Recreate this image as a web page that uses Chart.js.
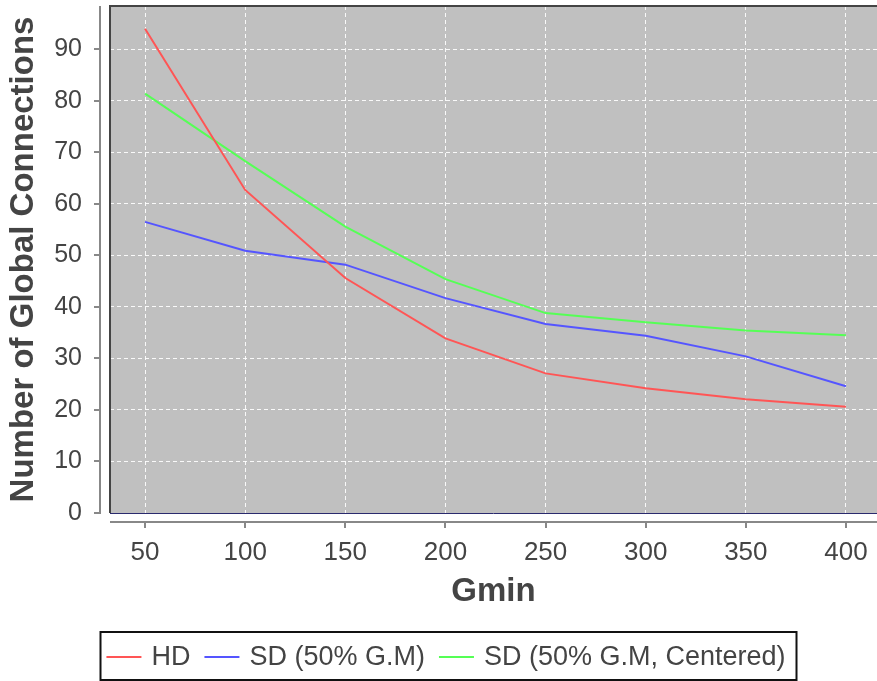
<!DOCTYPE html>
<html>
<head>
<meta charset="utf-8">
<title>Global connections vs Gmin</title>
<script src="https://cdn.jsdelivr.net/npm/chart.js@4.4.0/dist/chart.umd.min.js"></script>
<style>
  html, body { margin: 0; padding: 0; background: #fff; overflow: hidden; }
  canvas { display: block; }
</style>
</head>
<body>
<canvas id="myChart" width="877" height="681"></canvas>
<script>
// data
var gmin = [50, 100, 150, 200, 250, 300, 350, 400];
var hd = [94.0, 62.7, 45.6, 33.9, 27.1, 24.2, 22.1, 20.6];
var sdHalf = [56.5, 50.9, 48.2, 41.7, 36.7, 34.4, 30.4, 24.6];
var sdCentered = [81.4, 68.3, 55.6, 45.4, 38.8, 37.0, 35.4, 34.5];
var yTicks = [0, 10, 20, 30, 40, 50, 60, 70, 80, 90];
var seriesNames = ["HD", "SD (50% G.M)", "SD (50% G.M, Centered)"];
var seriesColors = ["#ff5555", "#5555ff", "#55ff55"];

var textColor = "#444444";
var axisColor = "#888888";
var fontFamily = "'Liberation Sans', Arial, sans-serif";

function toPoints(values) {
  return gmin.map(function (g, i) { return {x: g, y: values[i]}; });
}

var allSeries = [hd, sdHalf, sdCentered];
var datasets = allSeries.map(function (values, i) {
  return {
    label: seriesNames[i],
    data: toPoints(values),
    borderColor: seriesColors[i],
    backgroundColor: seriesColors[i],
    borderWidth: 2,
    pointRadius: 0,
    tension: 0,
    fill: false
  };
});

// fixed scale sizes, no extra label padding around the plot
function fixSize(prop, size) {
  return function (s) {
    s[prop] = size;
    s.paddingTop = 0; s.paddingBottom = 0;
    s.paddingLeft = 0; s.paddingRight = 0;
  };
}

// grey plot background, frame, offset axis lines and the boxed legend
var plotFrame = {
  id: "plotFrame",
  beforeDraw: function (chart) {
    var a = chart.chartArea, ctx = chart.ctx;
    ctx.save();
    ctx.fillStyle = "#c0c0c0";
    ctx.fillRect(a.left, a.top, a.right - a.left, a.bottom - a.top);
    ctx.restore();
  },
  afterDraw: function (chart) {
    var a = chart.chartArea, ctx = chart.ctx;
    var xs = chart.scales.x, ys = chart.scales.y;
    ctx.save();

    // frame: dark top/left, thin navy line along the zero level
    ctx.strokeStyle = "#444444";
    ctx.lineWidth = 2;
    ctx.beginPath();
    ctx.moveTo(a.left, a.bottom);
    ctx.lineTo(a.left, a.top);
    ctx.lineTo(a.right, a.top);
    ctx.stroke();
    ctx.strokeStyle = "#2a2a6e";
    ctx.lineWidth = 1;
    ctx.beginPath();
    ctx.moveTo(a.left, a.bottom + 0.5);
    ctx.lineTo(a.right, a.bottom + 0.5);
    ctx.stroke();

    // axis lines sit a few pixels away from the plot
    ctx.strokeStyle = axisColor;
    ctx.lineWidth = 2;
    var axX = a.left - 10;
    ctx.beginPath();
    ctx.moveTo(axX, a.top);
    ctx.lineTo(axX, a.bottom + 1);
    yTicks.forEach(function (v) {
      var py = Math.round(ys.getPixelForValue(v));
      ctx.moveTo(axX - 6, py);
      ctx.lineTo(axX, py);
    });
    var axY = a.bottom + 9;
    ctx.moveTo(a.left, axY);
    ctx.lineTo(a.right, axY);
    gmin.forEach(function (g) {
      var px = Math.round(xs.getPixelForValue(g));
      ctx.moveTo(px, axY);
      ctx.lineTo(px, axY + 6);
    });
    ctx.stroke();

    // legend
    ctx.font = "27px " + fontFamily;
    var lineLen = 35, gapText = 10, gapItem = 14;
    var widths = chart.data.datasets.map(function (d) { return ctx.measureText(d.label).width; });
    var total = 0;
    widths.forEach(function (w, i) {
      total += lineLen + gapText + w + (i < widths.length - 1 ? gapItem : 0);
    });
    var cx = 446, cy = 657;
    var x0 = cx - total / 2;
    ctx.strokeStyle = "#111111";
    ctx.lineWidth = 2;
    ctx.strokeRect(Math.round(x0 - 6) + 0.5, 632, Math.round(total + 17), 48);
    var x = x0;
    ctx.textBaseline = "middle";
    ctx.textAlign = "left";
    chart.data.datasets.forEach(function (d, i) {
      ctx.strokeStyle = d.borderColor;
      ctx.lineWidth = 2;
      ctx.beginPath();
      ctx.moveTo(x, cy);
      ctx.lineTo(x + lineLen, cy);
      ctx.stroke();
      x += lineLen + gapText;
      ctx.fillStyle = textColor;
      ctx.fillText(d.label, x, cy + 1);
      x += widths[i] + gapItem;
    });
    ctx.restore();
  }
};

new Chart("myChart", {
  type: "line",
  data: {datasets: datasets},
  plugins: [plotFrame],
  options: {
    responsive: false,
    animation: false,
    layout: {padding: {top: 6, right: 0, left: 0, bottom: 68}},
    plugins: {
      legend: {display: false},
      tooltip: {enabled: false}
    },
    scales: {
      x: {
        type: "linear",
        min: 32.5,
        max: 415.5,
        afterBuildTicks: function (s) { s.ticks = gmin.map(function (g) { return {value: g}; }); },
        afterFit: fixSize("height", 100),
        grid: {color: "rgba(255,255,255,0.9)", lineWidth: 1, drawTicks: false},
        border: {display: false, dash: [4, 3]},
        ticks: {color: textColor, font: {family: fontFamily, size: 26}, padding: 24, maxRotation: 0},
        title: {display: true, text: "Gmin", color: textColor,
                font: {family: fontFamily, size: 33, weight: "bold"}, padding: {top: 0, bottom: 1}}
      },
      y: {
        min: 0,
        max: 98.4,
        afterBuildTicks: function (s) { s.ticks = yTicks.map(function (v) { return {value: v}; }); },
        afterFit: fixSize("width", 110),
        grid: {color: "rgba(255,255,255,0.9)", lineWidth: 1, drawTicks: false},
        border: {display: false, dash: [4, 3]},
        ticks: {color: textColor, font: {family: fontFamily, size: 25}, padding: 28},
        title: {display: true, text: "Number of Global Connections", color: textColor,
                font: {family: fontFamily, size: 33, weight: "bold"}, padding: {top: 4, bottom: 0}}
      }
    }
  }
});
</script>
</body>
</html>
